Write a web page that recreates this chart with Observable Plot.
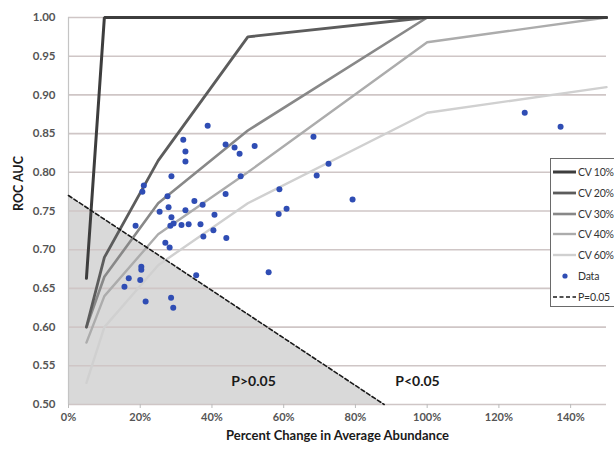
<!DOCTYPE html>
<html>
<head>
<meta charset="utf-8">
<script src="https://cdn.jsdelivr.net/npm/d3@7"></script>
<script src="https://cdn.jsdelivr.net/npm/@observablehq/plot@0.6"></script>
<style>
  html, body { margin: 0; padding: 0; background: #fff; overflow: hidden; width: 614px; height: 451px; }
  #wrap { position: relative; width: 614px; height: 451px; font-family: Lato, "Liberation Sans", sans-serif; }
  #legend { position: absolute; left: 550px; top: 158px; width: 90px; height: 149px; background: #fff; border: 1px solid #6a6a6a; box-sizing: border-box; }
  .item { position: absolute; left: 2px; height: 14px; display: flex; align-items: center; font-size: 10.5px; color: #333; white-space: nowrap; letter-spacing: -0.2px; }
  .item svg { margin-right: 2px; }
</style>
</head>
<body>
<div id="wrap"></div>
<script>
// Curve knots (percent change)
const cvX = [5, 10, 25, 50, 100, 150];
const cv10 = [0.663, 1.0, 1.0, 1.0, 1.0, 1.0];
const cv20 = [0.600, 0.690, 0.815, 0.975, 1.0, 1.0];
const cv30 = [0.600, 0.665, 0.760, 0.854, 1.0, 1.0];
const cv40 = [0.580, 0.640, 0.720, 0.800, 0.968, 1.0];
const cv60 = [0.528, 0.600, 0.680, 0.760, 0.877, 0.910];
const seriesNames = ["CV 10%", "CV 20%", "CV 30%", "CV 40%", "CV 60%"];
const seriesColors = ["#3d3d3d", "#5c5c5c", "#888888", "#acacac", "#d0d0d0"];
const seriesWidths = [3, 2.8, 2.6, 2.4, 2.4];

// P=0.05 boundary
const pX = [0, 88];
const pY = [0.77, 0.50];

// Data points
const dataX = [38.8, 32.0, 32.6, 32.6, 28.7, 21.0, 20.6, 43.8, 46.3, 47.7, 51.9, 48.0, 43.8, 27.6, 27.9, 25.4, 32.6, 35.1, 37.4, 40.7, 28.7, 58.8, 58.6, 60.8, 18.7, 28.4, 29.3, 31.5, 33.5, 36.8, 37.6, 40.4, 44.0, 27.0, 28.2, 20.3, 20.3, 16.8, 20.0, 15.6, 35.6, 55.8, 21.5, 28.6, 29.2, 68.3, 72.5, 69.2, 79.2, 127.2, 137.2];
const dataY = [0.860, 0.842, 0.827, 0.814, 0.795, 0.783, 0.775, 0.836, 0.832, 0.824, 0.834, 0.795, 0.772, 0.769, 0.755, 0.749, 0.751, 0.763, 0.758, 0.745, 0.742, 0.778, 0.746, 0.753, 0.731, 0.731, 0.734, 0.732, 0.733, 0.733, 0.717, 0.725, 0.715, 0.709, 0.703, 0.678, 0.674, 0.663, 0.661, 0.652, 0.667, 0.671, 0.633, 0.638, 0.625, 0.846, 0.811, 0.796, 0.765, 0.877, 0.859];

// Ticks
const xTicks = [0, 20, 40, 60, 80, 100, 120, 140];
const yTicks = [0.50, 0.55, 0.60, 0.65, 0.70, 0.75, 0.80, 0.85, 0.90, 0.95, 1.00];

const regionLabels = ["P>0.05", "P<0.05"];
const regionX = [51.6, 97.3];
const regionY = [0.530, 0.530];

const cvArrays = [cv10, cv20, cv30, cv40, cv60];
const pLine = pX.map((x, i) => ({x, y: pY[i]}));
const points = dataX.map((x, i) => ({x, y: dataY[i]}));
const regions = regionLabels.map((t, i) => ({t, x: regionX[i], y: regionY[i]}));

const font = "Lato, 'Liberation Sans', sans-serif";

const lineMarks = cvArrays.map((arr, k) =>
  Plot.line(cvX.map((x, i) => ({x, y: arr[i]})), {x: "x", y: "y", stroke: seriesColors[k], strokeWidth: seriesWidths[k], strokeLinejoin: "miter"})
).reverse();

const chart = Plot.plot({
  width: 614,
  height: 451,
  marginLeft: 68,
  marginRight: 8,
  marginTop: 17,
  marginBottom: 47,
  style: {fontFamily: font, background: "#fff"},
  x: {domain: [0, 150]},
  y: {domain: [0.5, 1.0]},
  marks: [
    Plot.areaY(pLine, {x: "x", y1: 0.5, y2: "y", fill: "#d9d9d9"}),
    Plot.ruleY(yTicks, {stroke: "#cfc6c6", strokeWidth: 1.6}),
    Plot.ruleX([0], {stroke: "#c4c4c4", strokeWidth: 1.2}),
    Plot.axisY({ticks: yTicks, tickFormat: d3.format(".2f"), tickSize: 0, tickPadding: 13, fontWeight: "bold", fontSize: 11.5, fill: "#555", label: null}),
    Plot.axisX({ticks: xTicks, tickFormat: d => d + "%", tickSize: 4, tickPadding: 5, stroke: "#bbb", fontWeight: "bold", fontSize: 11, fill: "#555", label: null}),
    ...lineMarks,
    Plot.line(pLine, {x: "x", y: "y", stroke: "#1a1a1a", strokeWidth: 1.6, strokeDasharray: "4,2.5"}),
    Plot.dot(points, {x: "x", y: "y", r: 3, fill: "#2f4db4", stroke: "none"}),
    Plot.text(regions, {x: "x", y: "y", text: "t", fontSize: 14, fontWeight: "bold", fill: "#1a1a1a"}),
    Plot.text(["ROC AUC"], {frameAnchor: "left", dx: -50, rotate: -90, fontSize: 12.5, fontWeight: "bold", fill: "#1a1a1a"}),
    Plot.text(["Percent Change in Average Abundance"], {frameAnchor: "bottom", dy: 35, fontSize: 13, fontWeight: "bold", fill: "#1a1a1a"})
  ]
});

const wrap = document.getElementById("wrap");
wrap.appendChild(chart);

// Legend
const legend = document.createElement("div");
legend.id = "legend";
const legendItems = seriesNames.map((n, k) => ({label: n, kind: "line", color: seriesColors[k], w: seriesWidths[k]}))
  .concat([{label: "Data", kind: "dot"}, {label: "P=0.05", kind: "dash"}]);
legendItems.forEach((it, i) => {
  const d = document.createElement("div");
  d.className = "item";
  d.style.top = (6 + i * 20.8) + "px";
  let sw;
  if (it.kind === "line") sw = `<svg width="23" height="10"><line x1="0" x2="23" y1="5" y2="5" stroke="${it.color}" stroke-width="${it.w}"/></svg>`;
  else if (it.kind === "dot") sw = `<svg width="23" height="10"><circle cx="12" cy="5" r="2.6" fill="#2f4db4"/></svg>`;
  else sw = `<svg width="23" height="10"><line x1="0" x2="23" y1="5" y2="5" stroke="#1a1a1a" stroke-width="1.6" stroke-dasharray="4,2.5"/></svg>`;
  d.innerHTML = sw + `<span>${it.label}</span>`;
  legend.appendChild(d);
});
wrap.appendChild(legend);
</script>
</body>
</html>
